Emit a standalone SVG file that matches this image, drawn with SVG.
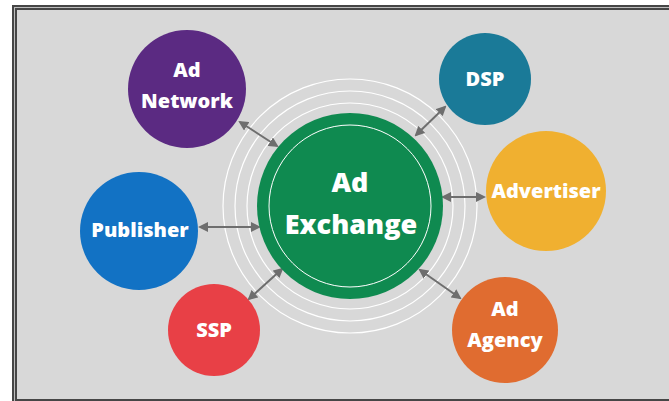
<svg xmlns="http://www.w3.org/2000/svg" width="669" height="401" viewBox="0 0 669 401">
  <style>
    .lbl { font-family: "Open Sans", "Noto Sans", "DejaVu Sans", sans-serif; font-weight: 800; fill: #ffffff; text-anchor: middle; }
    .sm { font-size: 20px; }
    .lg { font-size: 27px; }
    .ring { fill: none; stroke: #ffffff; stroke-width: 1.2; }
    .link { stroke: #6e6e6e; stroke-width: 2; fill: none; marker-start: url(#head); marker-end: url(#head); }
  </style>
  <defs>
    <marker id="head" viewBox="0 0 10 10" refX="8" refY="5" markerWidth="5" markerHeight="5" orient="auto-start-reverse" markerUnits="strokeWidth">
      <path d="M0,0 L10,5 L0,10 z" fill="#6e6e6e"/>
    </marker>
  </defs>

  <!-- page and frame -->
  <rect x="0" y="0" width="669" height="401" fill="#ffffff"/>
  <rect x="12" y="5" width="700" height="400" fill="#464646"/>
  <rect x="14.5" y="7.5" width="700" height="400" fill="none" stroke="#bdbdbd" stroke-width="1"/>
  <rect x="17" y="10" width="700" height="389" fill="#d8d8d8"/>

  <!-- halo rings around the exchange -->
  <g id="rings">
    <circle class="ring" cx="350" cy="206" r="103"/>
    <circle class="ring" cx="350" cy="206" r="115"/>
    <circle class="ring" cx="350" cy="206" r="127"/>
  </g>

  <!-- connectors -->
  <g id="connectors">
    <line class="link" x1="240" y1="122" x2="277" y2="146"/>
    <line class="link" x1="445" y1="107" x2="416" y2="135"/>
    <line class="link" x1="484" y1="197" x2="443" y2="197"/>
    <line class="link" x1="200" y1="227" x2="259" y2="227"/>
    <line class="link" x1="282" y1="269" x2="249" y2="299"/>
    <line class="link" x1="420" y1="270" x2="460" y2="298"/>
  </g>

  <g id="ad-exchange">
    <circle cx="350" cy="206" r="93" fill="#0f8a50"/>
    <circle cx="350" cy="206" r="81" fill="none" stroke="#ffffff" stroke-width="1"/>
    <text class="lbl lg" x="350" y="192">Ad</text>
    <text class="lbl lg" x="351" y="234">Exchange</text>
  </g>

  <g id="ad-network">
    <circle cx="187" cy="89" r="59" fill="#5b2a82"/>
    <text class="lbl sm" x="187" y="77">Ad</text>
    <text class="lbl sm" x="187" y="108">Network</text>
  </g>

  <g id="dsp">
    <circle cx="485" cy="79" r="46" fill="#1a7a98"/>
    <text class="lbl sm" x="485" y="86">DSP</text>
  </g>

  <g id="advertiser">
    <circle cx="546" cy="191" r="60" fill="#f0b030"/>
    <text class="lbl sm" x="546" y="198">Advertiser</text>
  </g>

  <g id="publisher">
    <circle cx="139" cy="231" r="59" fill="#1272c4"/>
    <text class="lbl sm" x="140" y="237">Publisher</text>
  </g>

  <g id="ssp">
    <circle cx="214" cy="330" r="46" fill="#e84046"/>
    <text class="lbl sm" x="214" y="337">SSP</text>
  </g>

  <g id="ad-agency">
    <circle cx="505" cy="330" r="53" fill="#e06c30"/>
    <text class="lbl sm" x="505" y="316">Ad</text>
    <text class="lbl sm" x="505" y="347">Agency</text>
  </g>
</svg>
